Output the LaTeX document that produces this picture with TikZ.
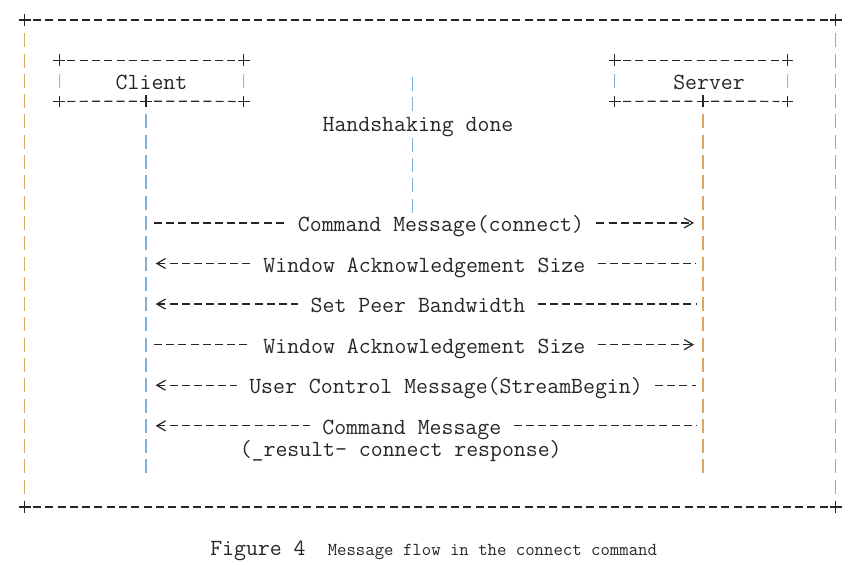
\documentclass[tikz,border=0pt]{standalone}
\usepackage{fontspec}
\usetikzlibrary{arrows.meta,shapes.misc}
\definecolor{ink}{HTML}{262626}
\definecolor{barO}{HTML}{DCA862}
\definecolor{barB}{HTML}{7FB0DC}
\tikzset{
  hdash/.style={draw=ink, line width=0.9pt, dash pattern=on 6pt off 3.22pt},
  mdash/.style={draw=ink, line width=0.9pt, dash pattern=on 6pt off 3.11pt},
  vbar/.style={line width=0.9pt, dash pattern=on 10.5pt off 4.72pt},
  plusmark/.style={cross out, draw=ink, line width=0.9pt, rotate=45, minimum size=5.3pt, inner sep=0pt},
  txt/.style={font=\ttfamily\fontsize{17.36pt}{20pt}\selectfont, text=ink, inner sep=0pt, text height=13pt, text depth=0pt},
  lbl/.style={txt, inner xsep=9.1pt},
  rtip/.style={-{Straight Barb[length=6.5pt,width=7.5pt,sep=2pt]}},
  ltip/.style={{Straight Barb[length=6.5pt,width=7.5pt,sep=2pt]}-},
}
\def\R#1{20+20.29*#1}
\begin{document}
\begin{tikzpicture}[x=0.75pt,y=-0.75pt]
\useasboundingbox (0,0) rectangle (866,564);
% outer frame
\node[plusmark] (tl) at (24.8,{\R{0}}) {};
\node[plusmark] (tr) at (835.8,{\R{0}}) {};
\node[plusmark] (bl) at (24.8,{\R{24}}) {};
\node[plusmark] (br) at (835.8,{\R{24}}) {};
\draw[hdash, shorten <=6.15pt, shorten >=6.15pt] (tl.center) -- (tr.center);
\draw[hdash, shorten <=6.15pt, shorten >=6.15pt] (bl.center) -- (br.center);
\draw[vbar, draw=barO, shorten <=9.97pt, shorten >=9.97pt] (tl.center) -- (bl.center);
\draw[vbar, draw=barB, shorten <=9.97pt, shorten >=9.97pt] (tr.center) -- (br.center);
% client box
\node[txt, minimum width=138pt, minimum height=30.44pt] (client) at (151.5,{\R{3}}) {Client};
\node[plusmark] (c1) at (client.north west) {};
\node[plusmark] (c2) at (client.north east) {};
\node[plusmark] (c3) at (client.south west) {};
\node[plusmark] (c4) at (client.south east) {};
\node[plusmark] (c5) at (146,{\R{4}}) {};
\draw[hdash, shorten <=6.15pt, shorten >=6.15pt] (c1.center) -- (c2.center);
\draw[hdash, shorten <=6.15pt, shorten >=6.15pt] (c3.center) -- (c5.center);
\draw[hdash, shorten <=6.15pt, shorten >=6.15pt] (c5.center) -- (c4.center);
\draw[vbar, draw=barO, shorten <=9.97pt, shorten >=9.97pt] (c1.center) -- (c3.center);
\draw[vbar, draw=barO, shorten <=9.97pt, shorten >=9.97pt] (c2.center) -- (c4.center);
% server box
\node[minimum width=129.2pt, minimum height=30.44pt, inner sep=0pt] (server) at (701.2,{\R{3}}) {};
\node[txt] (servername) at (709,{\R{3}}) {Server};
\node[plusmark] (s1) at (server.north west) {};
\node[plusmark] (s2) at (server.north east) {};
\node[plusmark] (s3) at (server.south west) {};
\node[plusmark] (s4) at (server.south east) {};
\node[plusmark] (s5) at (703,{\R{4}}) {};
\draw[hdash, shorten <=6.15pt, shorten >=6.15pt] (s1.center) -- (s2.center);
\draw[hdash, shorten <=6.15pt, shorten >=6.15pt] (s3.center) -- (s5.center);
\draw[hdash, shorten <=6.15pt, shorten >=6.15pt] (s5.center) -- (s4.center);
\draw[vbar, draw=barB, shorten <=9.97pt, shorten >=9.97pt] (s1.center) -- (s3.center);
\draw[vbar, draw=barO, shorten <=9.97pt, shorten >=9.97pt] (s2.center) -- (s4.center);
% lifelines
\coordinate (clend) at (146,{\R{22}+7});
\coordinate (slend) at (703,{\R{22}+7});
\draw[vbar, draw=barB, shorten <=9.97pt] (c5.center) -- (clend);
\draw[vbar, draw=barO, shorten <=9.97pt] (s5.center) -- (slend);
% handshake
\coordinate (hs1) at (412.3,{\R{3}-4});
\coordinate (hs2) at (412.3,{\R{9}+10});
\draw[vbar, draw=barB] (hs1) -- (hs2);
\node[txt, fill=white, inner ysep=1pt] (hs) at (418,{\R{5}+1}) {Handshaking done};
% message points
\foreach \r in {10,12,14,16,18,20}{
  \coordinate (a\r) at (146,{\R{\r}});
  \coordinate (b\r) at (703,{\R{\r}});
}
% messages
\node[lbl] (m1) at (441,{\R{10}}) {Command Message(connect)};
\draw[mdash, shorten <=6.15pt] (a10) -- (m1.west);
\draw[mdash, rtip, shorten >=4.7pt] (m1.east) -- (b10);

\node[lbl] (m2) at (424.4,{\R{12}}) {Window Acknowledgement Size};
\draw[mdash, ltip, shorten <=5.25pt] (a12) -- (m2.west);
\draw[mdash, shorten >=5.25pt] (m2.east) -- (b12);

\node[lbl] (m3) at (418,{\R{14}}) {Set Peer Bandwidth};
\draw[mdash, ltip, shorten <=5.25pt] (a14) -- (m3.west);
\draw[mdash, shorten >=5.25pt] (m3.east) -- (b14);

\node[lbl] (m4) at (424.4,{\R{16}}) {Window Acknowledgement Size};
\draw[mdash, shorten <=6.15pt] (a16) -- (m4.west);
\draw[mdash, rtip, shorten >=4.7pt] (m4.east) -- (b16);

\node[lbl] (m5) at (446,{\R{18}}) {User Control Message(StreamBegin)};
\draw[mdash, ltip, shorten <=5.25pt] (a18) -- (m5.west);
\draw[mdash, shorten >=5.25pt] (m5.east) -- (b18);

\node[lbl] (m6) at (411.8,{\R{20}}) {Command Message};
\draw[mdash, ltip, shorten <=5.25pt] (a20) -- (m6.west);
\draw[mdash, shorten >=5.25pt] (m6.east) -- (b20);
\node[txt, text height=12pt] (m6note) at (400.7,{\R{21}+2.5}) {(\_result- connect response)};
% caption
\node[txt, anchor=base west] (figno) at (210,555) {Figure 4};
\node[font=\ttfamily\fontsize{13.7pt}{16pt}\selectfont, text=ink, inner sep=0pt, anchor=base west] (figcap) at (327.5,555) {Message flow in the connect command};
\end{tikzpicture}
\end{document}
